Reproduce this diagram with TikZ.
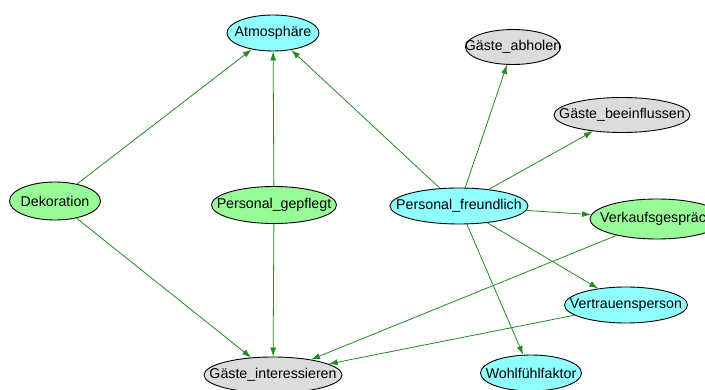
\documentclass[tikz,border=0pt]{standalone}
\usepackage{fontspec}
\setmainfont{Liberation Sans}
\usetikzlibrary{shapes.geometric,arrows.meta}

\definecolor{hellcyan}{HTML}{8FFFFF}
\definecolor{hellgruen}{HTML}{98FB98}
\definecolor{hellgrau}{HTML}{DCDCDC}
\definecolor{kante}{HTML}{228B22}

\newcommand{\etikett}[1]{\makebox[0pt]{#1}}

\tikzset{
  knoten/.style={ellipse, draw=black, line width=0.9pt, inner sep=0pt,
    minimum height=36pt, font=\fontsize{14.2}{16}\selectfont},
  ziel/.style={knoten, fill=hellcyan},
  quelle/.style={knoten, fill=hellgruen},
  rest/.style={knoten, fill=hellgrau},
  pfeil/.style={-{Latex[length=9pt,width=6pt]}, draw=kante, line width=0.8pt}
}

\begin{document}
\begin{tikzpicture}[x=1pt,y=-1pt]
    \useasboundingbox (0,0) rectangle (705,390);

    % Knoten
    \node[ziel,minimum width=92pt] (atm) at (273,33) {\etikett{Atmosphäre}};
    \node[rest,minimum width=95pt,minimum height=35pt] (abh) at (513,47) {\etikett{Gäste\_abholen}};
    \node[rest,minimum width=136pt,minimum height=35pt] (bee) at (622,115) {\etikett{Gäste\_beeinflussen}};
    \node[quelle,minimum width=91pt,minimum height=38pt] (deko) at (55,201) {\etikett{Dekoration}};
    \node[quelle,minimum width=125pt,minimum height=37pt] (gepf) at (274,205) {\etikett{Personal\_gepflegt}};
    \node[ziel,minimum width=138pt] (freu) at (459,206) {\etikett{Personal\_freundlich}};
    \node[quelle,minimum width=134pt,minimum height=40pt] (verk) at (657,219) {\etikett{Verkaufsgespräch}};
    \node[ziel,minimum width=123pt] (vert) at (626,305) {\etikett{Vertrauensperson}};
    \node[rest,minimum width=138pt] (int) at (273,375) {\etikett{Gäste\_interessieren}};
    \node[ziel,minimum width=101pt] (wohl) at (531,373) {\etikett{Wohlfühlfaktor}};

    % Kanten
    \draw[pfeil] (deko) -- (atm);
    \draw[pfeil] (gepf) -- (atm);
    \draw[pfeil] (freu) -- (atm);
    \draw[pfeil] (freu) -- (abh);
    \draw[pfeil] (freu) -- (bee);
    \draw[pfeil] (freu) -- (verk);
    \draw[pfeil] (freu) -- (vert);
    \draw[pfeil] (freu) -- (wohl);
    \draw[pfeil] (deko) -- (int);
    \draw[pfeil] (gepf) -- (int);
    \draw[pfeil] (verk) -- (int);
    \draw[pfeil] (vert) -- (int);

\end{tikzpicture}
\end{document}
